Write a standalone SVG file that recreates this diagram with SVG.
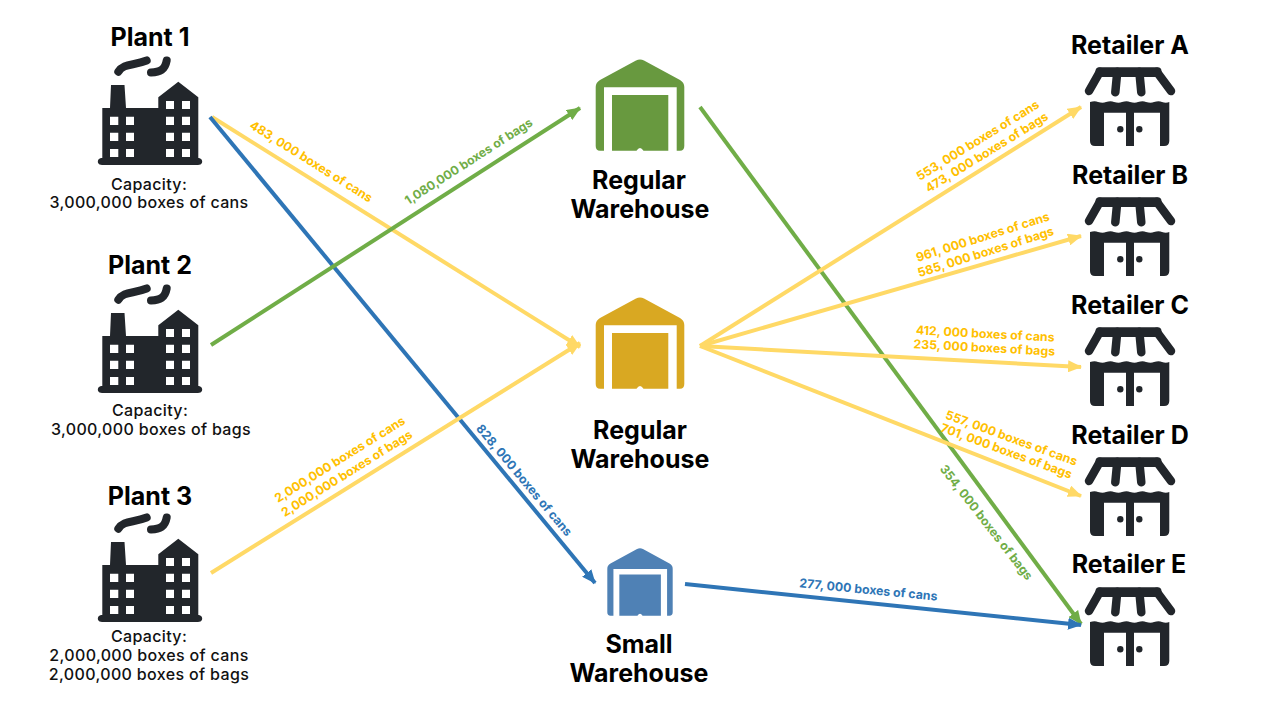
<svg xmlns="http://www.w3.org/2000/svg" width="1280" height="720" viewBox="0 0 1280 720">
<style>
text{font-family:Inter,"Open Sans","Liberation Sans",sans-serif;text-anchor:middle}
.t{font-size:25px;font-weight:700;fill:#000}
.c{font-size:16px;font-weight:500;fill:#111;letter-spacing:.35px}
.l{font-size:12.300px;font-weight:700}
.y{fill:#ffc000}.g{fill:#70ad47}.b{fill:#2e75b6}
.cy,.cg,.cb{fill:none;stroke-width:4}
.cy{stroke:#ffd966}.cg{stroke:#70ad47}.cb{stroke:#2e75b6}
</style>
<defs>
<marker id="ay" markerUnits="userSpaceOnUse" markerWidth="14" markerHeight="12" refX="13" refY="6" orient="auto"><path d="M0 0L14 6L0 12Z" fill="#ffd966"/></marker>
<marker id="ag" markerUnits="userSpaceOnUse" markerWidth="14" markerHeight="12" refX="13" refY="6" orient="auto"><path d="M0 0L14 6L0 12Z" fill="#70ad47"/></marker>
<marker id="ab" markerUnits="userSpaceOnUse" markerWidth="14" markerHeight="12" refX="13" refY="6" orient="auto"><path d="M0 0L14 6L0 12Z" fill="#2e75b6"/></marker>
<g id="factory">
<path d="M118.300 71.700C124 63 133 66 146.700 60.500M151 72.500C160 72 165 70 166.700 60.500" fill="none" stroke="#22262b" stroke-width="8" stroke-linecap="round"/>
<path fill-rule="evenodd" fill="#22262b" d="M102.300 158V108H110L111 85H124.500L126 108H158.300V97.300L178.300 81.700L198.300 97.300V158H199Q203 159 202 163Q201 165 198 165H102Q99 165 98 163Q97 159 101 158ZM110 116.700H118.300V125H110ZM126 116.700H134V125H126ZM110 132.700H118.300V141H110ZM126 132.700H134V141H126ZM110 149H118.300V157H110ZM126 149H134V157H126ZM166 101H174V109H166ZM182 101H190V109H182ZM166 116.700H174V125H166ZM182 116.700H190V125H182ZM166 132.700H174V141H166ZM182 132.700H190V141H182ZM166 149H174V157H166ZM182 149H190V157H182Z"/>
</g>
<path id="wh" fill-rule="evenodd" d="M636 60.500Q640 58.500 644 60.500L680 80Q684.300 82.500 684.300 87V146Q684.300 150.700 680 150.700H676.700V87.300H604V150.700H600Q595.700 150.700 595.700 146V87Q595.700 82.500 600 80ZM612 95H668.300V150.700H643.500Q640 145.500 636.500 150.700H612Z"/>
<g id="shop">
<path d="M1100 71.700L1089 91M1117.300 71.700L1115.300 92.300M1139.300 71.700L1141.300 92.300M1156.700 71.700L1171 91" fill="none" stroke="#22262b" stroke-width="8.500" stroke-linecap="round"/>
<rect x="1095.500" y="67.300" width="66" height="9.700" rx="4" fill="#22262b"/>
<path fill="#22262b" fill-rule="evenodd" d="M1090 102Q1095 100.500 1098 102Q1103 103.500 1106 102Q1111 100.500 1114 102Q1119 103.500 1122 102Q1127 100.500 1130 102Q1135 103.500 1138 102Q1143 100.500 1146 102Q1151 103.500 1154 102Q1159 100.500 1162 102Q1166 103.500 1169.300 102V141Q1169.300 146 1164 146H1160V112.700H1134V146H1126V112.700H1104V146H1095Q1090 146 1090 141Z"/>
<circle cx="1120.300" cy="129.300" r="3.200" fill="#22262b"/><circle cx="1139.300" cy="129.300" r="3.200" fill="#22262b"/>
</g>
</defs>
<g id="connectors">
<path class="cy" marker-end="url(#ay)" d="M212 117L580 347"/>
<path class="cb" marker-end="url(#ab)" d="M210 117L595 583"/>
<path class="cg" marker-end="url(#ag)" d="M211 345L580 108"/>
<path class="cy" marker-end="url(#ay)" d="M211 573L580 343"/>
<path class="cg" marker-end="url(#ag)" d="M700 107L1081 624"/>
<path class="cy" marker-end="url(#ay)" d="M700 346L1081 107"/>
<path class="cy" marker-end="url(#ay)" d="M700 346L1081 236"/>
<path class="cy" marker-end="url(#ay)" d="M700 346L1081 367"/>
<path class="cy" marker-end="url(#ay)" d="M700 346L1081 496"/>
<path class="cb" marker-end="url(#ab)" d="M685 584L1081 625"/>
</g>
<g id="connector-labels">
<text class="l y" transform="translate(309 165) rotate(32)">483, 000 boxes of cans</text>
<text class="g l" transform="translate(471 165) rotate(-32.700)">1,080,000 boxes of bags</text>
<text class="l b" transform="translate(521 483) rotate(50)">828, 000 boxes of cans</text>
<text class="l y" transform="translate(342 463) rotate(-32)">2,000,000 boxes of cans</text>
<text class="l y" transform="translate(349 477) rotate(-32)">2,000,000 boxes of bags</text>
<text class="l y" transform="translate(980 144) rotate(-31.600)">553, 000 boxes of cans</text>
<text class="l y" transform="translate(989 156) rotate(-31.600)">473, 000 boxes of bags</text>
<text class="l y" transform="translate(984 241) rotate(-17.500)">961, 000 boxes of cans</text>
<text class="l y" transform="translate(987 256) rotate(-17.500)">585, 000 boxes of bags</text>
<text class="l y" transform="translate(985 338) rotate(3)">412, 000 boxes of cans</text>
<text class="l y" transform="translate(984 352) rotate(3)">235, 000 boxes of bags</text>
<text class="l y" transform="translate(1010 442) rotate(20)">557, 000 boxes of cans</text>
<text class="l y" transform="translate(1005 455) rotate(20)">701, 000 boxes of bags</text>
<text class="g l" transform="translate(983 525) rotate(52)">354, 000 boxes of bags</text>
<text class="l b" transform="translate(868 594) rotate(5.500)">277, 000 boxes of cans</text>
</g>
<g id="plant1"><text class="t" x="150" y="46">Plant 1</text><use href="#factory"/><text class="c" x="149" y="190">Capacity:</text><text class="c" x="149" y="208">3,000,000 boxes of cans</text></g>
<g id="plant2"><text class="t" x="150" y="274">Plant 2</text><use href="#factory" y="228"/><text class="c" x="150" y="416">Capacity:</text><text class="c" x="151" y="435">3,000,000 boxes of bags</text></g>
<g id="plant3"><text class="t" x="150" y="505">Plant 3</text><use href="#factory" y="457"/><text class="c" x="149" y="642">Capacity:</text><text class="c" x="149" y="661">2,000,000 boxes of cans</text><text class="c" x="149" y="680">2,000,000 boxes of bags</text></g>
<g id="warehouse1"><use href="#wh" fill="#68993f"/><text class="t" x="639" y="189">Regular</text><text class="t" x="640" y="218">Warehouse</text></g>
<g id="warehouse2"><use href="#wh" y="238" fill="#d9a822"/><text class="t" x="640" y="439">Regular</text><text class="t" x="640" y="468">Warehouse</text></g>
<g id="warehouse3"><use href="#wh" transform="translate(640 548) scale(.738) translate(-640 -59)" fill="#4f81b5"/><text class="t" x="639" y="653">Small</text><text class="t" x="639" y="682">Warehouse</text></g>
<g id="retailerA"><text class="t" x="1130" y="54">Retailer A</text><use href="#shop"/></g>
<g id="retailerB"><text class="t" x="1130" y="184">Retailer B</text><use href="#shop" y="130"/></g>
<g id="retailerC"><text class="t" x="1130" y="314">Retailer C</text><use href="#shop" y="260"/></g>
<g id="retailerD"><text class="t" x="1130" y="444">Retailer D</text><use href="#shop" y="390"/></g>
<g id="retailerE"><text class="t" x="1129" y="573">Retailer E</text><use href="#shop" y="520"/></g>
</svg>
